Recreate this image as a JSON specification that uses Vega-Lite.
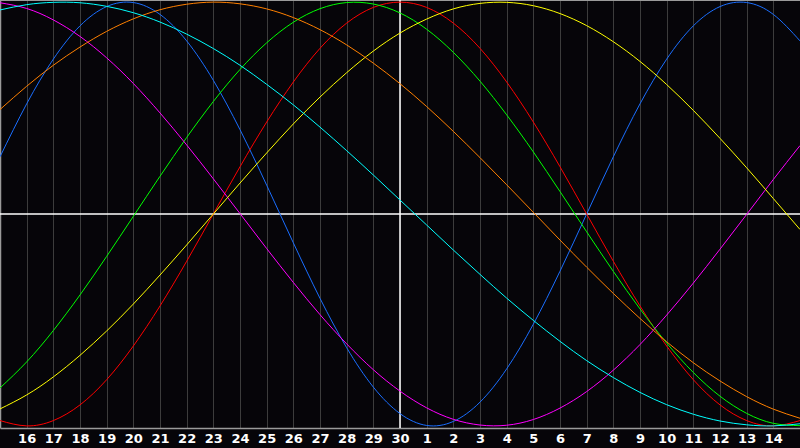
{
  "$schema": "https://vega.github.io/schema/vega-lite/v6.json",
  "description": "Biorhythm cycles over thirty days",
  "width": 800,
  "height": 428,
  "autosize": "none",
  "padding": {"left": 0, "top": 0, "right": 0, "bottom": 20},
  "background": "#060509",
  "config": {
    "view": {"stroke": null},
    "axis": {"title": null, "ticks": false, "domainColor": "#9a9a9a", "domainWidth": 1.5},
    "axisX": {
      "grid": true,
      "gridColor": "#3c3c3c",
      "gridWidth": 1,
      "labelColor": "#ffffff",
      "labelFont": "DejaVu Sans",
      "labelFontWeight": "bold",
      "labelFontSize": 13,
      "labelPadding": 4,
      "labelFlush": false,
      "labelOverlap": false,
      "labelBound": false
    },
    "axisY": {"grid": false, "labels": false}
  },
  "layer": [
    {
      "data": {"values": [{"edge": 1.01}]},
      "mark": {"type": "rule", "color": "#9a9a9a", "strokeWidth": 2},
      "encoding": {"y": {"field": "edge", "type": "quantitative", "scale": {"domain": [-1.01, 1.01], "nice": false}}}
    },
    {
      "data": {"values": [{"zero": 0}]},
      "mark": {"type": "rule", "color": "#ffffff", "strokeWidth": 1.5},
      "encoding": {"y": {"field": "zero", "type": "quantitative"}}
    },
    {
      "data": {"values": [{"today": 14}]},
      "mark": {"type": "rule", "color": "#ffffff", "strokeWidth": 1.5},
      "encoding": {
        "x": {
          "field": "today",
          "type": "quantitative",
          "scale": {"domain": [-1, 29], "nice": false, "zero": false},
          "axis": {
            "values": [0,1,2,3,4,5,6,7,8,9,10,11,12,13,14,15,16,17,18,19,20,21,22,23,24,25,26,27,28],
            "tickCount": 29,
            "labelExpr": "datum.value <= 14 ? datum.value + 16 : datum.value - 14",
            "labelOverlap": false
          }
        }
      }
    },
    {
      "data": {"values": [
        {"c":"Physical","t":-1,"v":0.270},{"c":"Physical","t":0,"v":0.520},{"c":"Physical","t":1,"v":0.731},{"c":"Physical","t":2,"v":0.888},{"c":"Physical","t":3,"v":0.979},{"c":"Physical","t":4,"v":0.998},{"c":"Physical","t":5,"v":0.942},{"c":"Physical","t":6,"v":0.817},{"c":"Physical","t":7,"v":0.631},{"c":"Physical","t":8,"v":0.398},{"c":"Physical","t":9,"v":0.136},{"c":"Physical","t":10,"v":-0.136},{"c":"Physical","t":11,"v":-0.398},{"c":"Physical","t":12,"v":-0.631},{"c":"Physical","t":13,"v":-0.817},{"c":"Physical","t":14,"v":-0.942},{"c":"Physical","t":15,"v":-0.998},{"c":"Physical","t":16,"v":-0.979},{"c":"Physical","t":17,"v":-0.888},{"c":"Physical","t":18,"v":-0.731},{"c":"Physical","t":19,"v":-0.520},{"c":"Physical","t":20,"v":-0.270},{"c":"Physical","t":21,"v":0.000},{"c":"Physical","t":22,"v":0.270},{"c":"Physical","t":23,"v":0.520},{"c":"Physical","t":24,"v":0.731},{"c":"Physical","t":25,"v":0.888},{"c":"Physical","t":26,"v":0.979},{"c":"Physical","t":27,"v":0.998},{"c":"Physical","t":28,"v":0.942},{"c":"Physical","t":29,"v":0.817},
        {"c":"Emotional","t":-1,"v":-0.975},{"c":"Emotional","t":0,"v":-1.000},{"c":"Emotional","t":1,"v":-0.975},{"c":"Emotional","t":2,"v":-0.901},{"c":"Emotional","t":3,"v":-0.782},{"c":"Emotional","t":4,"v":-0.623},{"c":"Emotional","t":5,"v":-0.434},{"c":"Emotional","t":6,"v":-0.223},{"c":"Emotional","t":7,"v":0.000},{"c":"Emotional","t":8,"v":0.223},{"c":"Emotional","t":9,"v":0.434},{"c":"Emotional","t":10,"v":0.623},{"c":"Emotional","t":11,"v":0.782},{"c":"Emotional","t":12,"v":0.901},{"c":"Emotional","t":13,"v":0.975},{"c":"Emotional","t":14,"v":1.000},{"c":"Emotional","t":15,"v":0.975},{"c":"Emotional","t":16,"v":0.901},{"c":"Emotional","t":17,"v":0.782},{"c":"Emotional","t":18,"v":0.623},{"c":"Emotional","t":19,"v":0.434},{"c":"Emotional","t":20,"v":0.223},{"c":"Emotional","t":21,"v":0.000},{"c":"Emotional","t":22,"v":-0.223},{"c":"Emotional","t":23,"v":-0.434},{"c":"Emotional","t":24,"v":-0.623},{"c":"Emotional","t":25,"v":-0.782},{"c":"Emotional","t":26,"v":-0.901},{"c":"Emotional","t":27,"v":-0.975},{"c":"Emotional","t":28,"v":-1.000},{"c":"Emotional","t":29,"v":-0.975},
        {"c":"Intellectual","t":-1,"v":-0.821},{"c":"Intellectual","t":0,"v":-0.698},{"c":"Intellectual","t":1,"v":-0.550},{"c":"Intellectual","t":2,"v":-0.382},{"c":"Intellectual","t":3,"v":-0.200},{"c":"Intellectual","t":4,"v":-0.011},{"c":"Intellectual","t":5,"v":0.178},{"c":"Intellectual","t":6,"v":0.361},{"c":"Intellectual","t":7,"v":0.531},{"c":"Intellectual","t":8,"v":0.682},{"c":"Intellectual","t":9,"v":0.808},{"c":"Intellectual","t":10,"v":0.905},{"c":"Intellectual","t":11,"v":0.969},{"c":"Intellectual","t":12,"v":0.998},{"c":"Intellectual","t":13,"v":0.991},{"c":"Intellectual","t":14,"v":0.949},{"c":"Intellectual","t":15,"v":0.872},{"c":"Intellectual","t":16,"v":0.763},{"c":"Intellectual","t":17,"v":0.627},{"c":"Intellectual","t":18,"v":0.468},{"c":"Intellectual","t":19,"v":0.293},{"c":"Intellectual","t":20,"v":0.106},{"c":"Intellectual","t":21,"v":-0.084},{"c":"Intellectual","t":22,"v":-0.271},{"c":"Intellectual","t":23,"v":-0.448},{"c":"Intellectual","t":24,"v":-0.609},{"c":"Intellectual","t":25,"v":-0.748},{"c":"Intellectual","t":26,"v":-0.860},{"c":"Intellectual","t":27,"v":-0.941},{"c":"Intellectual","t":28,"v":-0.988},{"c":"Intellectual","t":29,"v":-0.999},
        {"c":"Intuitive","t":-1,"v":0.997},{"c":"Intuitive","t":0,"v":0.970},{"c":"Intuitive","t":1,"v":0.916},{"c":"Intuitive","t":2,"v":0.838},{"c":"Intuitive","t":3,"v":0.737},{"c":"Intuitive","t":4,"v":0.616},{"c":"Intuitive","t":5,"v":0.477},{"c":"Intuitive","t":6,"v":0.326},{"c":"Intuitive","t":7,"v":0.166},{"c":"Intuitive","t":8,"v":0.002},{"c":"Intuitive","t":9,"v":-0.163},{"c":"Intuitive","t":10,"v":-0.323},{"c":"Intuitive","t":11,"v":-0.475},{"c":"Intuitive","t":12,"v":-0.613},{"c":"Intuitive","t":13,"v":-0.735},{"c":"Intuitive","t":14,"v":-0.836},{"c":"Intuitive","t":15,"v":-0.915},{"c":"Intuitive","t":16,"v":-0.969},{"c":"Intuitive","t":17,"v":-0.996},{"c":"Intuitive","t":18,"v":-0.997},{"c":"Intuitive","t":19,"v":-0.970},{"c":"Intuitive","t":20,"v":-0.916},{"c":"Intuitive","t":21,"v":-0.838},{"c":"Intuitive","t":22,"v":-0.737},{"c":"Intuitive","t":23,"v":-0.616},{"c":"Intuitive","t":24,"v":-0.477},{"c":"Intuitive","t":25,"v":-0.326},{"c":"Intuitive","t":26,"v":-0.166},{"c":"Intuitive","t":27,"v":-0.002},{"c":"Intuitive","t":28,"v":0.163},{"c":"Intuitive","t":29,"v":0.323},
        {"c":"Aesthetic","t":-1,"v":-0.920},{"c":"Aesthetic","t":0,"v":-0.854},{"c":"Aesthetic","t":1,"v":-0.769},{"c":"Aesthetic","t":2,"v":-0.667},{"c":"Aesthetic","t":3,"v":-0.552},{"c":"Aesthetic","t":4,"v":-0.425},{"c":"Aesthetic","t":5,"v":-0.288},{"c":"Aesthetic","t":6,"v":-0.146},{"c":"Aesthetic","t":7,"v":0.000},{"c":"Aesthetic","t":8,"v":0.146},{"c":"Aesthetic","t":9,"v":0.288},{"c":"Aesthetic","t":10,"v":0.425},{"c":"Aesthetic","t":11,"v":0.552},{"c":"Aesthetic","t":12,"v":0.667},{"c":"Aesthetic","t":13,"v":0.769},{"c":"Aesthetic","t":14,"v":0.854},{"c":"Aesthetic","t":15,"v":0.920},{"c":"Aesthetic","t":16,"v":0.968},{"c":"Aesthetic","t":17,"v":0.994},{"c":"Aesthetic","t":18,"v":0.999},{"c":"Aesthetic","t":19,"v":0.983},{"c":"Aesthetic","t":20,"v":0.946},{"c":"Aesthetic","t":21,"v":0.889},{"c":"Aesthetic","t":22,"v":0.813},{"c":"Aesthetic","t":23,"v":0.720},{"c":"Aesthetic","t":24,"v":0.611},{"c":"Aesthetic","t":25,"v":0.489},{"c":"Aesthetic","t":26,"v":0.357},{"c":"Aesthetic","t":27,"v":0.218},{"c":"Aesthetic","t":28,"v":0.073},{"c":"Aesthetic","t":29,"v":-0.073},
        {"c":"Awareness","t":-1,"v":0.493},{"c":"Awareness","t":0,"v":0.603},{"c":"Awareness","t":1,"v":0.702},{"c":"Awareness","t":2,"v":0.788},{"c":"Awareness","t":3,"v":0.862},{"c":"Awareness","t":4,"v":0.921},{"c":"Awareness","t":5,"v":0.964},{"c":"Awareness","t":6,"v":0.990},{"c":"Awareness","t":7,"v":1.000},{"c":"Awareness","t":8,"v":0.992},{"c":"Awareness","t":9,"v":0.968},{"c":"Awareness","t":10,"v":0.927},{"c":"Awareness","t":11,"v":0.870},{"c":"Awareness","t":12,"v":0.798},{"c":"Awareness","t":13,"v":0.712},{"c":"Awareness","t":14,"v":0.615},{"c":"Awareness","t":15,"v":0.507},{"c":"Awareness","t":16,"v":0.390},{"c":"Awareness","t":17,"v":0.266},{"c":"Awareness","t":18,"v":0.138},{"c":"Awareness","t":19,"v":0.008},{"c":"Awareness","t":20,"v":-0.123},{"c":"Awareness","t":21,"v":-0.251},{"c":"Awareness","t":22,"v":-0.375},{"c":"Awareness","t":23,"v":-0.493},{"c":"Awareness","t":24,"v":-0.603},{"c":"Awareness","t":25,"v":-0.702},{"c":"Awareness","t":26,"v":-0.788},{"c":"Awareness","t":27,"v":-0.862},{"c":"Awareness","t":28,"v":-0.921},{"c":"Awareness","t":29,"v":-0.964},
        {"c":"Spiritual","t":-1,"v":0.963},{"c":"Spiritual","t":0,"v":0.988},{"c":"Spiritual","t":1,"v":0.999},{"c":"Spiritual","t":2,"v":0.997},{"c":"Spiritual","t":3,"v":0.980},{"c":"Spiritual","t":4,"v":0.950},{"c":"Spiritual","t":5,"v":0.906},{"c":"Spiritual","t":6,"v":0.849},{"c":"Spiritual","t":7,"v":0.781},{"c":"Spiritual","t":8,"v":0.702},{"c":"Spiritual","t":9,"v":0.612},{"c":"Spiritual","t":10,"v":0.515},{"c":"Spiritual","t":11,"v":0.410},{"c":"Spiritual","t":12,"v":0.299},{"c":"Spiritual","t":13,"v":0.184},{"c":"Spiritual","t":14,"v":0.066},{"c":"Spiritual","t":15,"v":-0.052},{"c":"Spiritual","t":16,"v":-0.170},{"c":"Spiritual","t":17,"v":-0.285},{"c":"Spiritual","t":18,"v":-0.397},{"c":"Spiritual","t":19,"v":-0.502},{"c":"Spiritual","t":20,"v":-0.601},{"c":"Spiritual","t":21,"v":-0.692},{"c":"Spiritual","t":22,"v":-0.772},{"c":"Spiritual","t":23,"v":-0.842},{"c":"Spiritual","t":24,"v":-0.900},{"c":"Spiritual","t":25,"v":-0.945},{"c":"Spiritual","t":26,"v":-0.977},{"c":"Spiritual","t":27,"v":-0.995},{"c":"Spiritual","t":28,"v":-1.000},{"c":"Spiritual","t":29,"v":-0.990}
      ]},
      "mark": {"type": "line", "interpolate": "natural", "strokeWidth": 1, "clip": true},
      "encoding": {
        "x": {
          "field": "t",
          "type": "quantitative",
          "scale": {"domain": [-1, 29], "nice": false, "zero": false},
          "axis": {
            "values": [0,1,2,3,4,5,6,7,8,9,10,11,12,13,14,15,16,17,18,19,20,21,22,23,24,25,26,27,28],
            "tickCount": 29,
            "labelExpr": "datum.value <= 14 ? datum.value + 16 : datum.value - 14",
            "labelOverlap": false
          }
        },
        "y": {"field": "v", "type": "quantitative", "scale": {"domain": [-1.01, 1.01], "nice": false}},
        "color": {
          "field": "c",
          "type": "nominal",
          "legend": null,
          "scale": {
            "domain": ["Physical", "Emotional", "Intellectual", "Intuitive", "Aesthetic", "Awareness", "Spiritual"],
            "range": ["#1a6eff", "#ff0000", "#00ff00", "#ff00ff", "#ffff00", "#ff8000", "#00ffff"]
          }
        }
      }
    }
  ]
}
